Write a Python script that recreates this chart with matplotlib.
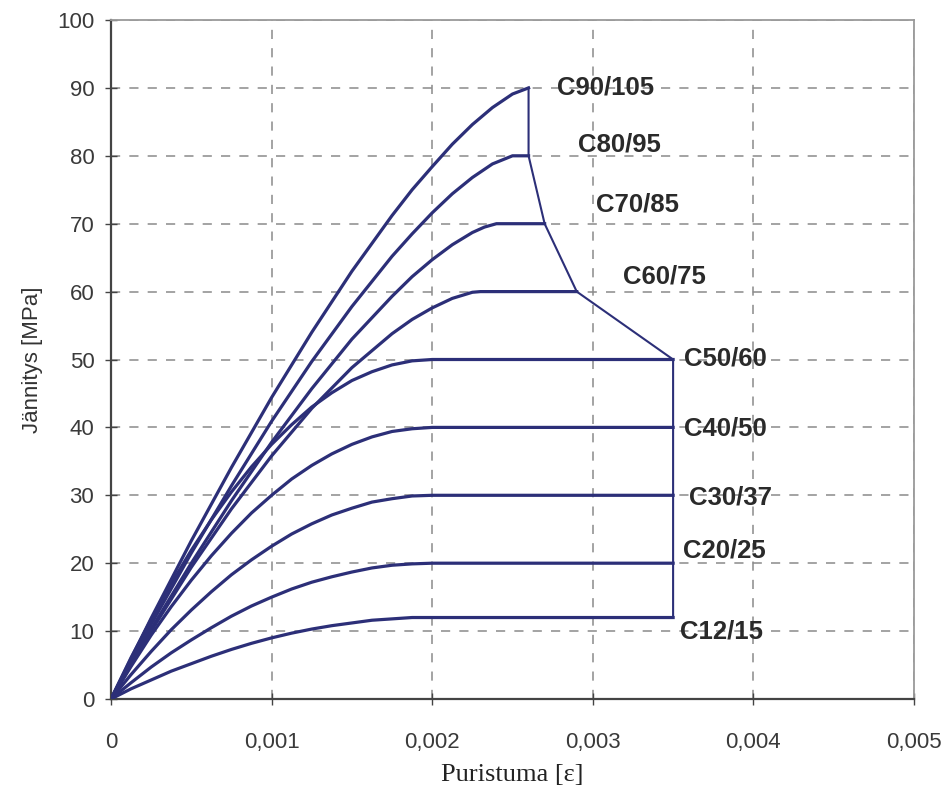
import matplotlib
matplotlib.use('Agg')
import matplotlib.pyplot as plt

# strain points (parabola part + end of plateau)
eps_low = [0, 0.000125, 0.00025, 0.000375, 0.0005, 0.000625, 0.00075, 0.000875, 0.001,
           0.001125, 0.00125, 0.001375, 0.0015, 0.001625, 0.00175, 0.001875, 0.002, 0.0035]
c12 = [0, 1.5, 2.8, 4.1, 5.2, 6.3, 7.3, 8.2, 9.0, 9.7, 10.3, 10.8, 11.2, 11.6, 11.8, 12.0, 12, 12]
c20 = [0, 2.4, 4.7, 6.8, 8.7, 10.5, 12.2, 13.7, 15.0, 16.2, 17.2, 18.0, 18.7, 19.3, 19.7, 19.9, 20, 20]
c30 = [0, 3.6, 7.0, 10.2, 13.1, 15.8, 18.3, 20.5, 22.5, 24.3, 25.8, 27.1, 28.1, 29.0, 29.5, 29.9, 30, 30]
c40 = [0, 4.8, 9.4, 13.6, 17.5, 21.1, 24.4, 27.4, 30.0, 32.4, 34.4, 36.1, 37.5, 38.6, 39.4, 39.8, 40, 40]
c50 = [0, 6.1, 11.7, 17.0, 21.9, 26.4, 30.5, 34.2, 37.5, 40.4, 43.0, 45.1, 46.9, 48.2, 49.2, 49.8, 50, 50]

eps_60 = [0, 0.00025, 0.0005, 0.00075, 0.001, 0.00125, 0.0015, 0.00175, 0.001875, 0.002,
          0.002125, 0.00225, 0.0023, 0.0029]
c60 = [0, 10.0, 19.4, 28.0, 35.8, 42.8, 48.8, 53.8, 55.9, 57.6, 59.0, 59.9, 60, 60]
eps_70 = [0, 0.00025, 0.0005, 0.00075, 0.001, 0.00125, 0.0015, 0.00175, 0.001875, 0.002,
          0.002125, 0.00225, 0.002325, 0.0024, 0.0027]
c70 = [0, 10.3, 20.0, 29.2, 37.8, 45.7, 53.0, 59.3, 62.2, 64.7, 66.9, 68.7, 69.5, 70, 70]
eps_80 = [0, 0.00025, 0.0005, 0.00075, 0.001, 0.00125, 0.0015, 0.00175, 0.001875, 0.002,
          0.002125, 0.00225, 0.002375, 0.0025, 0.0026]
c80 = [0, 11.0, 21.5, 31.4, 40.9, 49.7, 57.8, 65.2, 68.5, 71.6, 74.4, 76.8, 78.8, 80, 80]
eps_90 = [0, 0.00025, 0.0005, 0.00075, 0.001, 0.00125, 0.0015, 0.00175, 0.001875, 0.002,
          0.002125, 0.00225, 0.002375, 0.0025, 0.0026]
c90 = [0, 11.9, 23.3, 34.1, 44.4, 54.0, 63.0, 71.2, 75.0, 78.4, 81.7, 84.6, 87.1, 89.1, 90]

names = ["C12/15", "C20/25", "C30/37", "C40/50", "C50/60", "C60/75", "C70/85", "C80/95", "C90/105"]
label_x = [0.00354, 0.00356, 0.00360, 0.00357, 0.00357, 0.00319, 0.00302, 0.00291, 0.00278]
label_y = [10.0, 21.8, 29.7, 39.9, 50.2, 62.2, 72.8, 81.7, 90.0]

xticks = [0, 0.001, 0.002, 0.003, 0.004, 0.005]
xticklabels = ["0", "0,001", "0,002", "0,003", "0,004", "0,005"]
yticks = list(range(0, 101, 10))

navy = "#2c2f78"

curves = [(eps_low, c12), (eps_low, c20), (eps_low, c30), (eps_low, c40), (eps_low, c50),
          (eps_60, c60), (eps_70, c70), (eps_80, c80), (eps_90, c90)]

fig = plt.figure(figsize=(9.45, 7.91), dpi=100)
ax = fig.add_axes([111/945, 1 - 699/791, 803/945, 679/791])

for e, s in curves:
    ax.plot(e, s, color=navy, lw=2.3, solid_joinstyle='round', zorder=3)

# line joining the ends of the curves
end_x = [e[-1] for e, s in curves]
end_y = [s[-1] for e, s in curves]
ax.plot(end_x, end_y, color=navy, lw=1.5, zorder=3)

for n, lx, ly in zip(names, label_x, label_y):
    ax.text(lx, ly, n, ha='left', va='center', fontsize=18.5, fontweight='bold',
            family='Liberation Sans', color='#2a2a2a', zorder=4)

ax.set_xlim(0, 0.005)
ax.set_ylim(0, 100)
ax.set_xticks(xticks)
ax.set_xticklabels(xticklabels)
ax.set_yticks(yticks)
for lab in ax.get_xticklabels() + ax.get_yticklabels():
    lab.set_family('Liberation Sans')
    lab.set_fontsize(16)
    lab.set_color('#3a3a3a')
ax.tick_params(axis='both', direction='inout', length=8, width=1, color='#444444')
ax.tick_params(axis='x', pad=20)
ax.tick_params(axis='y', pad=8)

ax.grid(True, color='#8a8a8a', linestyle=(0, (6, 6)), linewidth=1.1, zorder=1)

for side in ['left', 'bottom']:
    ax.spines[side].set_color('#444444')
    ax.spines[side].set_linewidth(1.6)
for side in ['top', 'right']:
    ax.spines[side].set_color('#9a9a9a')
    ax.spines[side].set_linewidth(1.3)

ax.set_xlabel("Puristuma [ε]", family='Liberation Serif', fontsize=19, color='#222222', labelpad=8)
ax.set_ylabel("Jännitys [MPa]", family='Liberation Sans', fontsize=16, color='#333333', labelpad=10)

fig.savefig("out.png", dpi=100)
